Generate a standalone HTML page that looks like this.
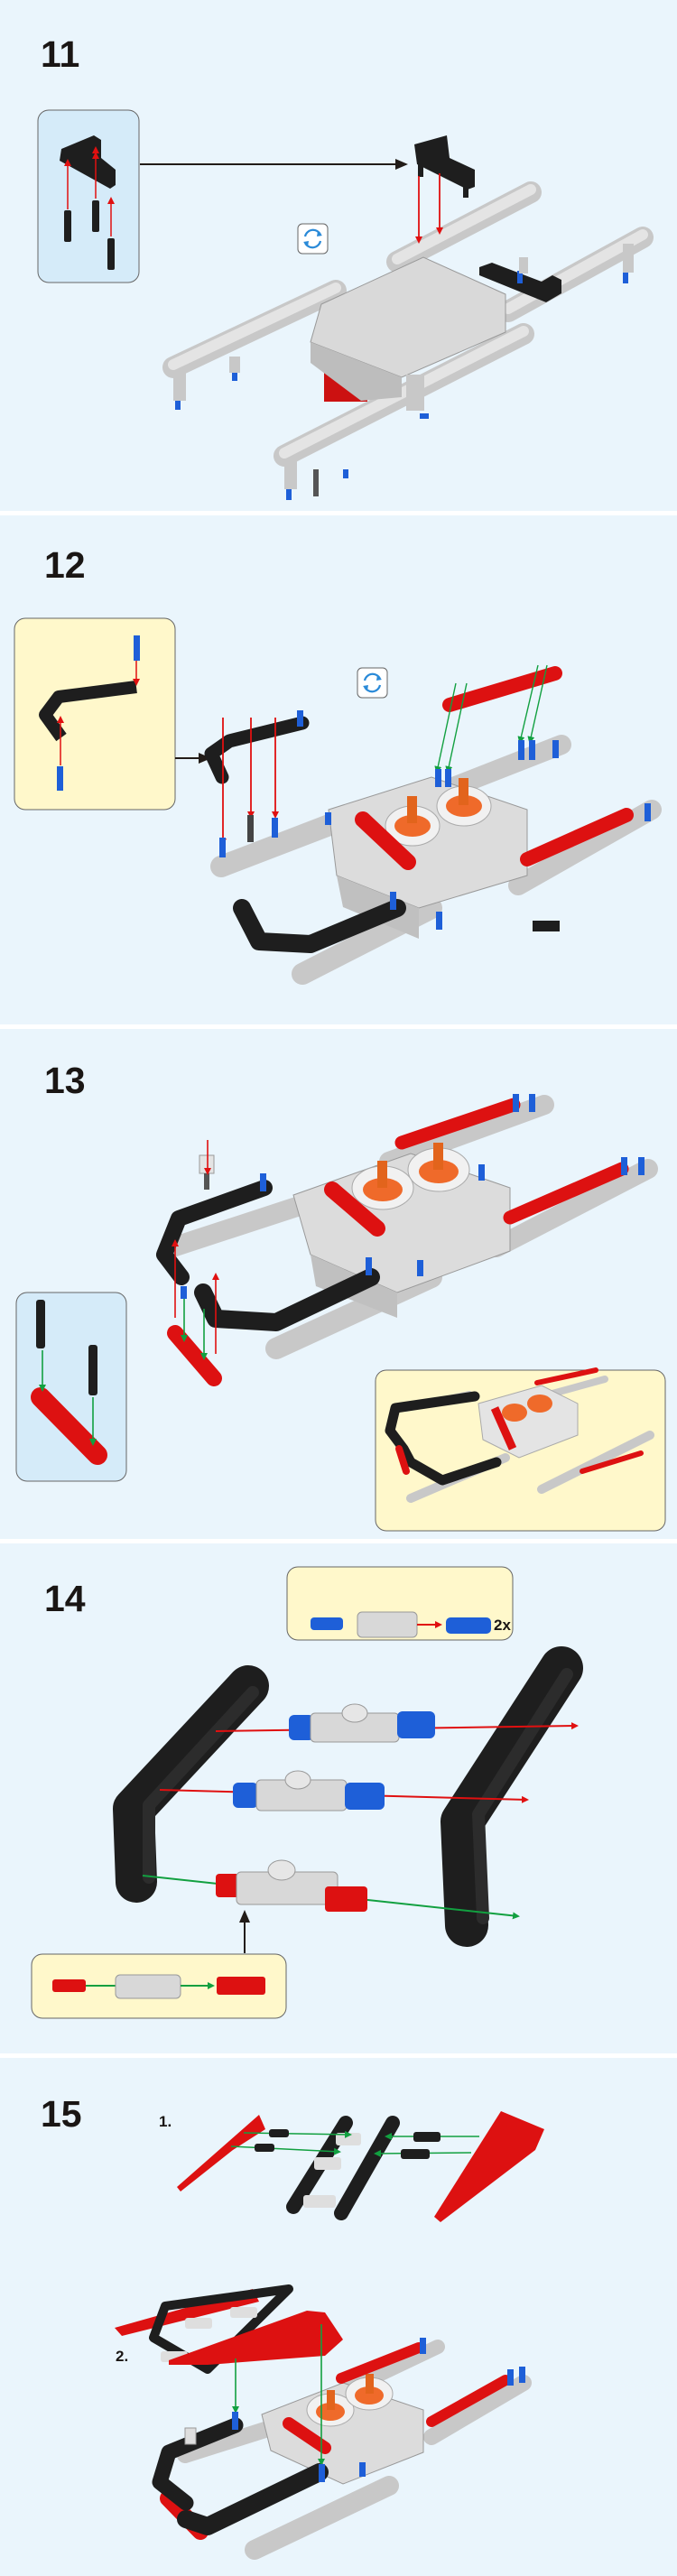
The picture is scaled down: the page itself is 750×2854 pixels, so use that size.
<!DOCTYPE html>
<html><head><meta charset="utf-8"><style>
html,body{margin:0;padding:0;background:#EAF5FC;}
svg{display:block}
text{font-family:"Liberation Sans Narrow","Liberation Sans",sans-serif;font-weight:bold;fill:#1a1614}
</style></head><body>
<svg width="750" height="2854" viewBox="0 0 750 2854" xmlns="http://www.w3.org/2000/svg">
<defs>
<marker id="ar" markerWidth="8" markerHeight="8" refX="6" refY="4" orient="auto" markerUnits="userSpaceOnUse"><path d="M0,0 L8,4 L0,8z" fill="#e01010"/></marker>
<marker id="ag" markerWidth="8" markerHeight="8" refX="6" refY="4" orient="auto" markerUnits="userSpaceOnUse"><path d="M0,0 L8,4 L0,8z" fill="#12a040"/></marker>
<marker id="ak" markerWidth="14" markerHeight="12" refX="12" refY="6" orient="auto" markerUnits="userSpaceOnUse"><path d="M0,0 L14,6 L0,12z" fill="#221c18"/></marker>
<g id="rot"><rect x="0" y="0" width="33" height="33" rx="5" fill="#fff" stroke="#666" stroke-width="1"/><path d="M8,14 A9,9 0 0 1 25,12" fill="none" stroke="#2a8ad8" stroke-width="2.2"/><path d="M25,19 A9,9 0 0 1 8,21" fill="none" stroke="#2a8ad8" stroke-width="2.2"/><path d="M22,8 L27,13 L21,14z M11,25 L6,20 L12,19z" fill="#2a8ad8"/></g>
</defs>
<rect width="750" height="2854" fill="#EAF5FC"/>
<rect x="0" y="566" width="750" height="5" fill="#fff"/>
<rect x="0" y="1135" width="750" height="5" fill="#fff"/>
<rect x="0" y="1705" width="750" height="5" fill="#fff"/>
<rect x="0" y="2275" width="750" height="5" fill="#fff"/>

<!-- STEP 11 -->
<text x="45" y="74" font-size="41">11</text>
<rect x="42" y="122" width="112" height="191" rx="12" fill="#D5EBF9" stroke="#666" stroke-width="1"/>
<path d="M68,165 L104,150 L112,155 L112,175 L128,188 L128,205 L122,209 L66,178z" fill="#1e1e1e"/>
<g stroke="#e01010" stroke-width="1.5"><line x1="75" y1="232" x2="75" y2="178" marker-end="url(#ar)"/><line x1="106" y1="220" x2="106" y2="170" marker-end="url(#ar)"/><line x1="123" y1="262" x2="123" y2="220" marker-end="url(#ar)"/><line x1="106" y1="170" x2="106" y2="164" marker-end="url(#ar)"/></g>
<g fill="#1e1e1e"><rect x="71" y="233" width="8" height="35" rx="2"/><rect x="102" y="222" width="8" height="35" rx="2"/><rect x="119" y="264" width="8" height="35" rx="2"/></g>
<line x1="155" y1="182" x2="450" y2="182" stroke="#221c18" stroke-width="2" marker-end="url(#ak)"/>
<use href="#rot" x="330" y="248"/>
<g stroke-linecap="round" fill="none">
<line x1="440" y1="290" x2="588" y2="213" stroke="#c8c8c8" stroke-width="24"/>
<line x1="563" y1="345" x2="712" y2="263" stroke="#c8c8c8" stroke-width="24"/>
<line x1="192" y1="407" x2="372" y2="322" stroke="#c8c8c8" stroke-width="24"/>
<line x1="315" y1="505" x2="580" y2="370" stroke="#c8c8c8" stroke-width="24"/>
<line x1="440" y1="287" x2="588" y2="210" stroke="#e4e4e4" stroke-width="12"/>
<line x1="563" y1="342" x2="712" y2="260" stroke="#e4e4e4" stroke-width="12"/>
<line x1="192" y1="404" x2="372" y2="319" stroke="#e4e4e4" stroke-width="12"/>
<line x1="315" y1="502" x2="580" y2="367" stroke="#e4e4e4" stroke-width="12"/>
</g>
<rect x="359" y="405" width="48" height="40" fill="#cc1111"/>
<path d="M356,337 L469,285 L560,326 L560,368 L445,418 L344,379z" fill="#d9d9d9" stroke="#999" stroke-width="1"/>
<path d="M344,379 L445,418 L445,440 L400,444 L344,402z" fill="#bdbdbd"/>
<path d="M459,160 L495,150 L498,175 L526,188 L526,207 L518,210 L462,182z" fill="#1e1e1e"/>
<rect x="463" y="182" width="6" height="14" fill="#1e1e1e"/><rect x="513" y="205" width="6" height="14" fill="#1e1e1e"/>
<path d="M531,296 L545,291 L600,312 L612,305 L622,310 L622,325 L605,335 L531,305z" fill="#1e1e1e"/>
<g stroke="#e01010" stroke-width="1.8"><line x1="464" y1="195" x2="464" y2="268" marker-end="url(#ar)"/><line x1="487" y1="192" x2="487" y2="258" marker-end="url(#ar)"/></g>
<g fill="#1e5fd8"><rect x="194" y="440" width="6" height="14"/><rect x="257" y="408" width="6" height="14"/><rect x="317" y="540" width="6" height="14"/><rect x="573" y="300" width="6" height="14"/><rect x="690" y="300" width="6" height="14"/><rect x="465" y="458" width="10" height="6"/><rect x="380" y="520" width="6" height="10"/></g>
<g fill="#c8c8c8"><rect x="192" y="412" width="14" height="32"/><rect x="254" y="395" width="12" height="18"/><rect x="315" y="510" width="14" height="32"/><rect x="575" y="285" width="10" height="18"/><rect x="690" y="270" width="12" height="32"/><rect x="450" y="415" width="20" height="40"/></g>
<rect x="347" y="520" width="6" height="30" fill="#555"/>

<!-- STEP 12 -->
<text x="49" y="640" font-size="41">12</text>
<rect x="16" y="685" width="178" height="212" rx="12" fill="#FFF8CB" stroke="#666" stroke-width="1"/>
<path d="M151,761 L65,772 L50,792 L68,817" fill="none" stroke="#1e1e1e" stroke-width="14" stroke-linejoin="round"/>
<g stroke="#e01010" stroke-width="1.5"><line x1="151" y1="732" x2="151" y2="758" marker-end="url(#ar)"/><line x1="67" y1="848" x2="67" y2="795" marker-end="url(#ar)"/></g>
<rect x="148" y="704" width="7" height="28" fill="#1e5fd8"/><rect x="63" y="849" width="7" height="27" fill="#1e5fd8"/>
<line x1="194" y1="840" x2="232" y2="840" stroke="#221c18" stroke-width="2" marker-end="url(#ak)"/>
<use href="#rot" x="396" y="740"/>
<g stroke-linecap="round" fill="none">
<line x1="245" y1="960" x2="370" y2="912" stroke="#c8c8c8" stroke-width="24"/>
<line x1="502" y1="872" x2="622" y2="825" stroke="#c8c8c8" stroke-width="22"/>
<line x1="574" y1="981" x2="722" y2="897" stroke="#c8c8c8" stroke-width="22"/>
<line x1="335" y1="1079" x2="478" y2="1006" stroke="#c8c8c8" stroke-width="24"/>
</g>
<path d="M364,897 L478,861 L584,897 L584,970 L464,1006 L373,970z" fill="#dcdcdc" stroke="#999"/>
<path d="M373,970 L464,1006 L464,1040 L380,1005z" fill="#c0c0c0"/>
<ellipse cx="457" cy="915" rx="30" ry="22" fill="#f1f1f1" stroke="#aaa"/><ellipse cx="457" cy="915" rx="20" ry="12" fill="#ef6a2a"/><rect x="451" y="882" width="11" height="30" fill="#e2641c"/>
<ellipse cx="514" cy="893" rx="30" ry="22" fill="#f1f1f1" stroke="#aaa"/><ellipse cx="514" cy="893" rx="20" ry="12" fill="#ef6a2a"/><rect x="508" y="862" width="11" height="30" fill="#e2641c"/>
<g stroke-linecap="round" fill="none" stroke-linejoin="round">
<path d="M268,1006 L287,1043 L344,1046 L440,1006" stroke="#1e1e1e" stroke-width="20"/>
<path d="M246,861 L234,835 L254,821 L335,801" stroke="#1e1e1e" stroke-width="15"/>
<line x1="498" y1="781" x2="615" y2="746" stroke="#dd1111" stroke-width="16"/>
<line x1="584" y1="952" x2="694" y2="903" stroke="#dd1111" stroke-width="16"/>
<line x1="402" y1="908" x2="452" y2="955" stroke="#dd1111" stroke-width="18"/>
</g>
<g stroke="#e01010" stroke-width="1.8"><line x1="247" y1="795" x2="247" y2="935" marker-end="url(#ar)"/><line x1="278" y1="795" x2="278" y2="905" marker-end="url(#ar)"/><line x1="305" y1="795" x2="305" y2="905" marker-end="url(#ar)"/></g>
<g stroke="#12a040" stroke-width="1.4"><line x1="505" y1="757" x2="484" y2="855" marker-end="url(#ag)"/><line x1="517" y1="757" x2="496" y2="855" marker-end="url(#ag)"/><line x1="596" y1="737" x2="576" y2="822" marker-end="url(#ag)"/><line x1="606" y1="737" x2="587" y2="822" marker-end="url(#ag)"/></g>
<g fill="#1e5fd8"><rect x="243" y="928" width="7" height="22"/><rect x="301" y="906" width="7" height="22"/><rect x="329" y="787" width="7" height="18"/><rect x="482" y="852" width="7" height="20"/><rect x="493" y="852" width="7" height="20"/><rect x="574" y="820" width="7" height="22"/><rect x="586" y="820" width="7" height="22"/><rect x="612" y="820" width="7" height="20"/><rect x="714" y="890" width="7" height="20"/><rect x="432" y="988" width="7" height="20"/><rect x="483" y="1010" width="7" height="20"/><rect x="360" y="900" width="7" height="14"/></g>
<rect x="274" y="903" width="7" height="30" fill="#444"/>
<rect x="590" y="1020" width="30" height="12" fill="#1e1e1e"/>

<!-- STEP 13 -->
<text x="49" y="1211" font-size="41">13</text>
<rect x="18" y="1432" width="122" height="209" rx="12" fill="#D5EBF9" stroke="#666" stroke-width="1"/>
<line x1="45" y1="1548" x2="108" y2="1612" stroke="#dd1111" stroke-width="22" stroke-linecap="round"/>
<rect x="40" y="1440" width="10" height="54" rx="3" fill="#1e1e1e"/><rect x="98" y="1490" width="10" height="56" rx="3" fill="#1e1e1e"/>
<g stroke="#12a040" stroke-width="1.6"><line x1="47" y1="1496" x2="47" y2="1540" marker-end="url(#ag)"/><line x1="103" y1="1548" x2="103" y2="1600" marker-end="url(#ag)"/></g>
<rect x="416" y="1518" width="321" height="178" rx="12" fill="#FFF8CB" stroke="#666" stroke-width="1"/>
<g stroke-linecap="round" fill="none" stroke-linejoin="round">
<line x1="455" y1="1660" x2="560" y2="1615" stroke="#c8c8c8" stroke-width="10"/>
<line x1="450" y1="1560" x2="520" y2="1545" stroke="#c8c8c8" stroke-width="8"/>
<line x1="600" y1="1650" x2="720" y2="1590" stroke="#c8c8c8" stroke-width="10"/>
<line x1="590" y1="1550" x2="670" y2="1528" stroke="#c8c8c8" stroke-width="8"/>
<path d="M526,1547 L438,1560 L432,1585 L447,1605 L455,1620 L490,1640 L550,1620" stroke="#1e1e1e" stroke-width="11"/>
<line x1="442" y1="1605" x2="450" y2="1630" stroke="#dd1111" stroke-width="8"/>
<line x1="595" y1="1532" x2="660" y2="1518" stroke="#dd1111" stroke-width="6"/>
<line x1="645" y1="1630" x2="710" y2="1610" stroke="#dd1111" stroke-width="6"/>
</g>
<path d="M530,1555 L600,1535 L640,1555 L640,1590 L575,1615 L535,1595z" fill="#e4e4e4" stroke="#aaa"/>
<ellipse cx="570" cy="1565" rx="14" ry="10" fill="#ef6a2a"/><ellipse cx="598" cy="1555" rx="14" ry="10" fill="#ef6a2a"/>
<line x1="548" y1="1560" x2="568" y2="1605" stroke="#dd1111" stroke-width="9"/>
<g stroke-linecap="round" fill="none" stroke-linejoin="round">
<line x1="191" y1="1382" x2="344" y2="1332" stroke="#c8c8c8" stroke-width="22"/>
<line x1="306" y1="1494" x2="478" y2="1415" stroke="#c8c8c8" stroke-width="24"/>
<line x1="431" y1="1287" x2="603" y2="1224" stroke="#c8c8c8" stroke-width="22"/>
<line x1="550" y1="1382" x2="718" y2="1295" stroke="#c8c8c8" stroke-width="22"/>
</g>
<path d="M325,1324 L455,1278 L565,1316 L565,1386 L440,1432 L344,1390z" fill="#dcdcdc" stroke="#999"/>
<path d="M344,1390 L440,1432 L440,1460 L350,1425z" fill="#c0c0c0"/>
<ellipse cx="424" cy="1316" rx="34" ry="24" fill="#f1f1f1" stroke="#aaa"/><ellipse cx="424" cy="1318" rx="22" ry="13" fill="#ef6a2a"/><rect x="418" y="1286" width="11" height="30" fill="#e2641c"/>
<ellipse cx="486" cy="1296" rx="34" ry="24" fill="#f1f1f1" stroke="#aaa"/><ellipse cx="486" cy="1298" rx="22" ry="13" fill="#ef6a2a"/><rect x="480" y="1266" width="11" height="30" fill="#e2641c"/>
<g stroke-linecap="round" fill="none" stroke-linejoin="round">
<line x1="445" y1="1266" x2="569" y2="1224" stroke="#dd1111" stroke-width="15"/>
<line x1="565" y1="1349" x2="689" y2="1295" stroke="#dd1111" stroke-width="15"/>
<line x1="368" y1="1318" x2="418" y2="1361" stroke="#dd1111" stroke-width="18"/>
<path d="M201,1415 L182,1390 L198,1350 L293,1316" stroke="#1e1e1e" stroke-width="18"/>
<path d="M225,1432 L239,1461 L306,1465 L411,1415" stroke="#1e1e1e" stroke-width="20"/>
<line x1="194" y1="1477" x2="237" y2="1527" stroke="#dd1111" stroke-width="18"/>
</g>
<rect x="221" y="1280" width="16" height="20" fill="#e4e4e4" stroke="#999"/><rect x="226" y="1300" width="6" height="18" fill="#555"/>
<g stroke="#e01010" stroke-width="1.6"><line x1="230" y1="1263" x2="230" y2="1300" marker-end="url(#ar)"/><line x1="194" y1="1460" x2="194" y2="1375" marker-end="url(#ar)"/><line x1="239" y1="1500" x2="239" y2="1412" marker-end="url(#ar)"/></g>
<g stroke="#12a040" stroke-width="1.6"><line x1="204" y1="1438" x2="204" y2="1485" marker-end="url(#ag)"/><line x1="226" y1="1450" x2="226" y2="1505" marker-end="url(#ag)"/></g>
<g fill="#1e5fd8"><rect x="288" y="1300" width="7" height="20"/><rect x="405" y="1393" width="7" height="20"/><rect x="568" y="1212" width="7" height="20"/><rect x="586" y="1212" width="7" height="20"/><rect x="688" y="1282" width="7" height="20"/><rect x="707" y="1282" width="7" height="20"/><rect x="530" y="1290" width="7" height="18"/><rect x="462" y="1396" width="7" height="18"/><rect x="200" y="1425" width="7" height="14"/></g>

<!-- STEP 14 -->
<text x="49" y="1785" font-size="41">14</text>
<rect x="318" y="1736" width="250" height="81" rx="12" fill="#FFF8CB" stroke="#666" stroke-width="1"/>
<rect x="344" y="1792" width="36" height="14" rx="4" fill="#1e5fd8"/>
<rect x="396" y="1786" width="66" height="28" rx="5" fill="#d8d8d8" stroke="#999"/>
<line x1="462" y1="1800" x2="488" y2="1800" stroke="#e01010" stroke-width="2" marker-end="url(#ar)"/>
<rect x="494" y="1792" width="50" height="18" rx="5" fill="#1e5fd8"/>
<text x="547" y="1806" font-size="17">2x</text>
<g stroke-linecap="round" fill="none" stroke-linejoin="round">
<path d="M275,1868 L148,2004 L151,2085" stroke="#1e1e1e" stroke-width="46"/>
<path d="M622,1848 L512,2018 L517,2133" stroke="#1e1e1e" stroke-width="48"/>
<path d="M280,1875 L165,2000 L165,2080" stroke="#2c2c2c" stroke-width="14"/>
<path d="M628,1855 L530,2010 L535,2125" stroke="#2c2c2c" stroke-width="14"/>
</g>
<g stroke="#e01010" stroke-width="2"><line x1="239" y1="1918" x2="639" y2="1912" marker-end="url(#ar)"/><line x1="177" y1="1983" x2="584" y2="1994" marker-end="url(#ar)"/></g>
<line x1="158" y1="2078" x2="574" y2="2123" stroke="#12a040" stroke-width="2" marker-end="url(#ag)"/>
<rect x="320" y="1900" width="28" height="28" rx="6" fill="#1e5fd8"/><rect x="344" y="1898" width="98" height="32" rx="5" fill="#d8d8d8" stroke="#999"/><rect x="440" y="1896" width="42" height="30" rx="6" fill="#1e5fd8"/>
<ellipse cx="393" cy="1898" rx="14" ry="10" fill="#e6e6e6" stroke="#999"/>
<rect x="258" y="1975" width="28" height="28" rx="6" fill="#1e5fd8"/><rect x="284" y="1972" width="100" height="34" rx="5" fill="#d8d8d8" stroke="#999"/><rect x="382" y="1975" width="44" height="30" rx="6" fill="#1e5fd8"/>
<ellipse cx="330" cy="1972" rx="14" ry="10" fill="#e6e6e6" stroke="#999"/>
<rect x="239" y="2076" width="26" height="26" rx="4" fill="#dd1111"/><rect x="262" y="2074" width="112" height="36" rx="5" fill="#d8d8d8" stroke="#999"/><rect x="360" y="2090" width="47" height="28" rx="4" fill="#dd1111"/>
<ellipse cx="312" cy="2072" rx="15" ry="11" fill="#e6e6e6" stroke="#999"/>
<line x1="271" y1="2164" x2="271" y2="2118" stroke="#221c18" stroke-width="2" marker-end="url(#ak)"/>
<rect x="35" y="2165" width="282" height="71" rx="12" fill="#FFF8CB" stroke="#666" stroke-width="1"/>
<rect x="58" y="2193" width="37" height="14" rx="3" fill="#dd1111"/>
<line x1="95" y1="2200" x2="128" y2="2200" stroke="#12a040" stroke-width="2"/>
<rect x="128" y="2188" width="72" height="26" rx="5" fill="#d8d8d8" stroke="#999"/>
<line x1="200" y1="2200" x2="236" y2="2200" stroke="#12a040" stroke-width="2" marker-end="url(#ag)"/>
<rect x="240" y="2190" width="54" height="20" rx="3" fill="#dd1111"/>

<!-- STEP 15 -->
<text x="45" y="2356" font-size="41">15</text>
<text x="176" y="2356" font-size="17">1.</text>
<text x="128" y="2616" font-size="17">2.</text>
<path d="M196,2423 L287,2343 L294,2359 L258,2382 L200,2428z" fill="#dd1111"/>
<path d="M481,2456 L555,2339 L603,2359 L593,2382 L488,2462z" fill="#dd1111"/>
<g stroke-linecap="round"><line x1="325" y1="2445" x2="383" y2="2352" stroke="#1e1e1e" stroke-width="16"/><line x1="378" y1="2452" x2="435" y2="2352" stroke="#1e1e1e" stroke-width="16"/></g>
<g fill="#dedede"><rect x="372" y="2363" width="28" height="14" rx="3"/><rect x="348" y="2390" width="30" height="14" rx="3"/><rect x="336" y="2432" width="36" height="14" rx="3"/></g>
<g stroke="#12a040" stroke-width="1.5"><line x1="270" y1="2363" x2="388" y2="2365" marker-end="url(#ag)"/><line x1="256" y1="2378" x2="376" y2="2384" marker-end="url(#ag)"/><line x1="531" y1="2367" x2="428" y2="2367" marker-end="url(#ag)"/><line x1="522" y1="2385" x2="416" y2="2386" marker-end="url(#ag)"/></g>
<g fill="#1e1e1e"><rect x="298" y="2359" width="22" height="9" rx="3"/><rect x="282" y="2375" width="22" height="9" rx="3"/><rect x="458" y="2362" width="30" height="11" rx="3"/><rect x="444" y="2381" width="32" height="11" rx="3"/></g>
<path d="M127,2579 L280,2536 L287,2550 L135,2588z" fill="#dd1111"/>
<path d="M170,2590 L183,2555 L320,2536 L230,2625z" fill="none" stroke="#1e1e1e" stroke-width="10" stroke-linejoin="round"/>
<g fill="#dedede"><rect x="205" y="2568" width="30" height="12" rx="3"/><rect x="178" y="2605" width="30" height="12" rx="3"/><rect x="255" y="2556" width="30" height="12" rx="3"/></g>
<path d="M187,2615 L340,2560 L360,2562 L380,2592 L360,2610 L230,2620 L187,2620z" fill="#dd1111"/>
<g stroke-linecap="round" fill="none" stroke-linejoin="round">
<line x1="205" y1="2720" x2="300" y2="2690" stroke="#c8c8c8" stroke-width="18"/>
<line x1="282" y1="2825" x2="431" y2="2754" stroke="#c8c8c8" stroke-width="22"/>
<line x1="380" y1="2650" x2="485" y2="2600" stroke="#c8c8c8" stroke-width="16"/>
<line x1="478" y1="2700" x2="580" y2="2640" stroke="#c8c8c8" stroke-width="18"/>
</g>
<path d="M290,2675 L380,2640 L469,2670 L469,2717 L380,2752 L300,2715z" fill="#dcdcdc" stroke="#999"/>
<ellipse cx="366" cy="2670" rx="26" ry="18" fill="#f1f1f1" stroke="#aaa"/><ellipse cx="366" cy="2672" rx="16" ry="10" fill="#ef6a2a"/><rect x="362" y="2648" width="9" height="22" fill="#e2641c"/>
<ellipse cx="409" cy="2652" rx="26" ry="18" fill="#f1f1f1" stroke="#aaa"/><ellipse cx="409" cy="2654" rx="16" ry="10" fill="#ef6a2a"/><rect x="405" y="2630" width="9" height="22" fill="#e2641c"/>
<g stroke-linecap="round" fill="none" stroke-linejoin="round">
<line x1="378" y1="2635" x2="464" y2="2601" stroke="#dd1111" stroke-width="12"/>
<line x1="478" y1="2683" x2="560" y2="2637" stroke="#dd1111" stroke-width="12"/>
<line x1="320" y1="2685" x2="360" y2="2712" stroke="#dd1111" stroke-width="14"/>
<line x1="186" y1="2768" x2="222" y2="2805" stroke="#dd1111" stroke-width="18"/>
<path d="M261,2687 L187,2717 L177,2750 L206,2773" stroke="#1e1e1e" stroke-width="17"/>
<path d="M206,2791 L230,2799 L354,2739" stroke="#1e1e1e" stroke-width="20"/>
</g>
<g stroke="#12a040" stroke-width="1.6"><line x1="261" y1="2613" x2="261" y2="2672" marker-end="url(#ag)"/><line x1="356" y1="2575" x2="356" y2="2730" marker-end="url(#ag)"/></g>
<g fill="#1e5fd8"><rect x="257" y="2672" width="7" height="20"/><rect x="353" y="2730" width="7" height="20"/><rect x="465" y="2590" width="7" height="18"/><rect x="562" y="2625" width="7" height="18"/><rect x="575" y="2622" width="7" height="18"/><rect x="398" y="2728" width="7" height="16"/></g>
<rect x="205" y="2690" width="12" height="18" fill="#dedede" stroke="#999"/>
</svg>
</body></html>
